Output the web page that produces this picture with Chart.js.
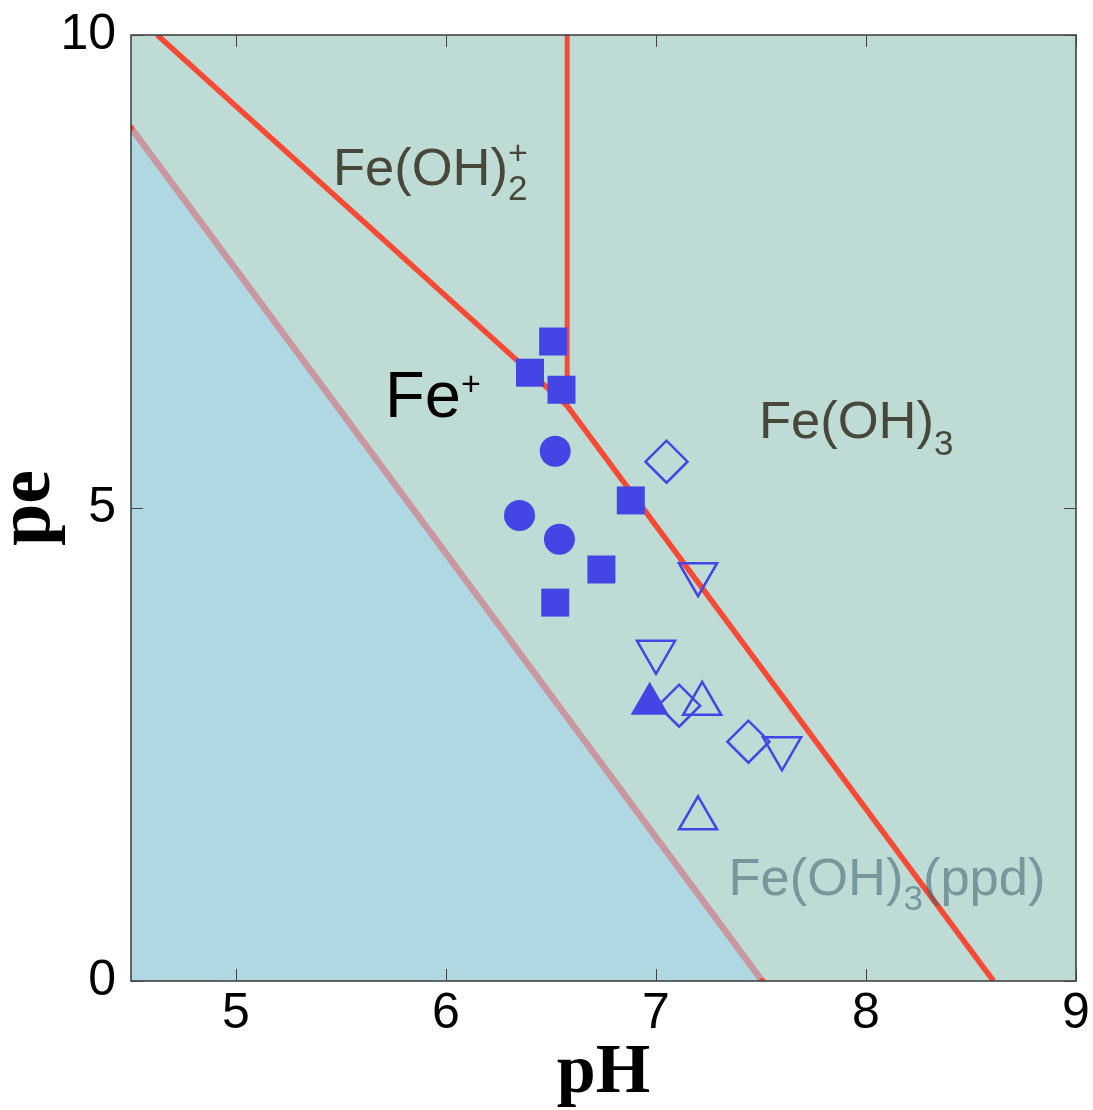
<!DOCTYPE html>
<html>
<head>
<meta charset="utf-8">
<script src="https://cdn.jsdelivr.net/npm/chart.js@4.4.1/dist/chart.umd.min.js"></script>
<style>
  html, body { margin: 0; padding: 0; background: #fff; }
  #wrap { width: 1093px; height: 1110px; }
</style>
</head>
<body>
<div id="wrap"><canvas id="pourbaix"></canvas></div>
<script>
// Diagrama pe-pH do ferro com as amostras medidas

const xTicks = [5, 6, 7, 8, 9];
const yTicks = [0, 5, 10];

// fronteiras entre as espécies
const boundaryOh3 = [{ x: 4.625, y: 10 }, { x: 6.577, y: 6.08 }, { x: 8.607, y: 0 }];
const boundaryVertical = [{ x: 6.577, y: 10 }, { x: 6.577, y: 6.08 }];
const boundaryPpd = [{ x: 4.5, y: 9.02 }, { x: 7.506, y: 0 }];

// amostras
const filledSquares = [
  { x: 6.51, y: 6.76 }, { x: 6.40, y: 6.43 }, { x: 6.55, y: 6.25 },
  { x: 6.88, y: 5.08 }, { x: 6.74, y: 4.35 }, { x: 6.52, y: 4.00 },
];
const filledCircles = [{ x: 6.52, y: 5.60 }, { x: 6.35, y: 4.92 }, { x: 6.54, y: 4.67 }];
const openDiamonds = [{ x: 7.05, y: 5.49 }, { x: 7.11, y: 2.91 }, { x: 7.44, y: 2.53 }];
const openDownTriangles = [{ x: 7.20, y: 4.30 }, { x: 7.00, y: 3.48 }, { x: 7.60, y: 2.46 }];
const openUpTriangles = [{ x: 7.22, y: 2.93 }, { x: 7.20, y: 1.72 }];
const filledUpTriangles = [{ x: 6.97, y: 2.93 }];

const BLUE = '#4545e6';
const RED = '#f64a35';
const SANS = '"Liberation Sans", Arial, Helvetica, sans-serif';
const SERIF = '"Liberation Serif", "Times New Roman", serif';

// ─── Helpers ────────────────────────────────────────────────────────────────

function drawRich(ctx, x, y, parts, color) {
  ctx.fillStyle = color;
  ctx.textAlign = 'left';
  ctx.textBaseline = 'alphabetic';
  let cx = x;
  parts.forEach(p => {
    ctx.font = `${p.size}px ${SANS}`;
    ctx.fillText(p.text, cx, y + (p.dy || 0));
    if (!p.stack) cx += ctx.measureText(p.text).width;
  });
}

// a área do gráfico fica presa ao padding do layout
function noScalePadding(scale) {
  scale.paddingTop = 0;
  scale.paddingBottom = 0;
  scale.paddingLeft = 0;
  scale.paddingRight = 0;
}

const plotBackground = {
  id: 'plotBackground',
  beforeDraw(chart) {
    const { ctx, chartArea: a } = chart;
    ctx.save();
    ctx.fillStyle = '#bfdbd5';
    ctx.fillRect(a.left, a.top, a.right - a.left, a.bottom - a.top);
    ctx.restore();
  }
};

const frameAndLabels = {
  id: 'frameAndLabels',
  afterDatasetsDraw(chart) {
    const { ctx, chartArea: a, scales: { x, y } } = chart;
    ctx.save();

    // rótulos das regiões
    const px = v => x.getPixelForValue(v);
    const py = v => y.getPixelForValue(v);
    const dark = '#47473a';
    drawRich(ctx, px(5.462), py(8.414), [
      { text: 'Fe(OH)', size: 52.5 },
      { text: '2', size: 35, dy: 15, stack: true },
      { text: '+', size: 34, dy: -21 },
    ], dark);
    drawRich(ctx, px(5.71), py(5.962), [
      { text: 'Fe', size: 65 },
      { text: '+', size: 34, dy: -22 },
    ], '#000');
    drawRich(ctx, px(7.49), py(5.74), [
      { text: 'Fe(OH)', size: 52.5 },
      { text: '3', size: 35, dy: 17 },
    ], dark);
    drawRich(ctx, px(7.345), py(0.909), [
      { text: 'Fe(OH)', size: 52.5 },
      { text: '3', size: 35, dy: 15 },
      { text: '(ppd)', size: 52.5 },
    ], 'rgba(60, 95, 110, 0.55)');

    // moldura
    ctx.strokeStyle = '#3a3a3a';
    ctx.lineWidth = 1.5;
    ctx.strokeRect(a.left, a.top, a.right - a.left, a.bottom - a.top);

    // marcas internas
    const tl = 12;
    ctx.lineWidth = 1;
    ctx.strokeStyle = '#444';
    ctx.beginPath();
    xTicks.forEach(v => {
      const p = Math.round(px(v)) + 0.5;
      ctx.moveTo(p, a.bottom); ctx.lineTo(p, a.bottom - tl);
      ctx.moveTo(p, a.top); ctx.lineTo(p, a.top + tl);
    });
    yTicks.forEach(v => {
      const p = Math.round(py(v)) + 0.5;
      ctx.moveTo(a.left, p); ctx.lineTo(a.left + tl, p);
      ctx.moveTo(a.right, p); ctx.lineTo(a.right - tl, p);
    });
    ctx.stroke();
    ctx.restore();
  }
};

function lineSet(data, color, width, order) {
  return {
    data,
    showLine: true,
    borderColor: color,
    borderWidth: width,
    pointRadius: 0,
    fill: false,
    order,
  };
}

function markerSet(data, style, radius, filled, extra) {
  return Object.assign({
    data,
    pointStyle: style,
    pointRadius: radius,
    pointHoverRadius: radius,
    backgroundColor: filled ? BLUE : 'rgba(0,0,0,0)',
    borderColor: BLUE,
    borderWidth: filled ? 0 : 2.5,
    order: 1,
  }, extra || {});
}

// ─── Gráfico ────────────────────────────────────────────────────────────────

const ctx = document.getElementById('pourbaix').getContext('2d');
new Chart(ctx, {
  type: 'scatter',
  data: {
    datasets: [
      Object.assign(lineSet(boundaryPpd, '#c8979f', 6.5, 3), {
        fill: 'start',
        backgroundColor: '#b0d8e3',
        pointRadius: [3, 3],
        pointBackgroundColor: RED,
        pointBorderWidth: 0,
      }),
      lineSet(boundaryOh3, RED, 5.5, 2),
      lineSet(boundaryVertical, RED, 5, 2),
      markerSet(filledSquares, 'rect', 19.8, true),
      markerSet(filledCircles, 'circle', 15.5, true),
      markerSet(openDiamonds, 'rectRot', 21, false),
      markerSet(openDownTriangles, 'triangle', 22, false, { rotation: 180 }),
      markerSet(openUpTriangles, 'triangle', 22, false),
      markerSet(filledUpTriangles, 'triangle', 22, true),
    ]
  },
  options: {
    responsive: true,
    maintainAspectRatio: false,
    animation: false,
    layout: { autoPadding: false, padding: { top: 35, right: 17, left: 0, bottom: 0 } },
    plugins: {
      legend: { display: false },
      tooltip: { enabled: false },
    },
    scales: {
      x: {
        type: 'linear',
        min: 4.5,
        max: 9,
        afterBuildTicks: scale => { scale.ticks = xTicks.map(v => ({ value: v })); },
        afterFit: scale => { scale.height = 129; noScalePadding(scale); },
        grid: { display: false, drawTicks: false },
        border: { display: false },
        ticks: {
          color: '#000',
          padding: 3,
          maxRotation: 0,
          font: { family: SANS, size: 50, lineHeight: 1.2 },
        },
        title: {
          display: true,
          text: 'pH',
          color: '#000',
          padding: { top: 0, bottom: 1 },
          font: { family: SERIF, size: 70, weight: 'bold', lineHeight: 1 },
        },
      },
      y: {
        type: 'linear',
        min: 0,
        max: 10,
        afterBuildTicks: scale => { scale.ticks = yTicks.map(v => ({ value: v })); },
        afterFit: scale => { scale.width = 131; noScalePadding(scale); },
        grid: { display: false, drawTicks: false },
        border: { display: false },
        ticks: {
          color: '#000',
          padding: 15,
          font: { family: SANS, size: 50, lineHeight: 1.2 },
        },
        title: {
          display: true,
          text: 'pe',
          color: '#000',
          padding: { top: -9, bottom: 0 },
          font: { family: SERIF, size: 76, weight: 'bold', lineHeight: 1 },
        },
      },
    },
  },
  plugins: [plotBackground, frameAndLabels],
});
</script>
</body>
</html>
